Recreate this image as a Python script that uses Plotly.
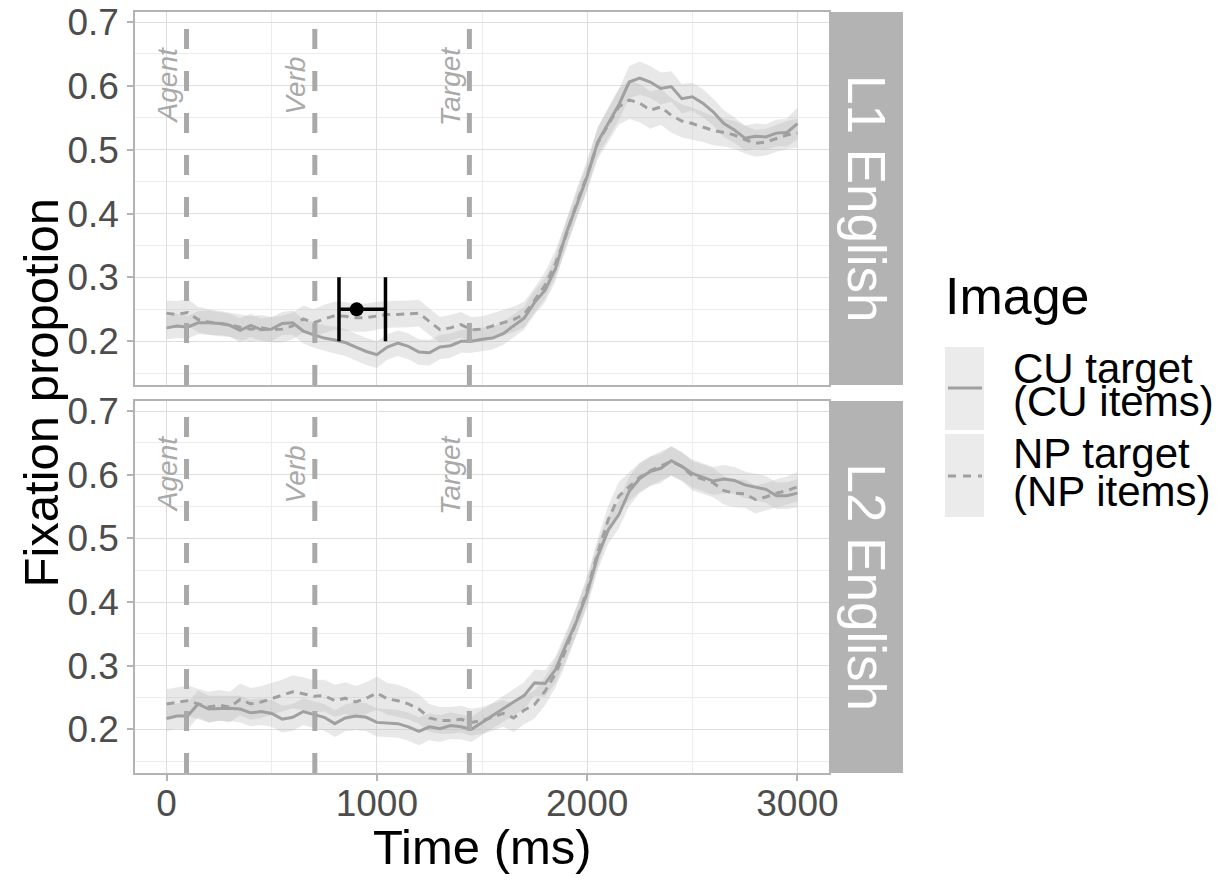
import plotly.graph_objects as go

# ---- data ------------------------------------------------------------------
time_ms = [0, 50, 100, 150, 200, 250, 300, 350, 400, 450, 500, 550, 600, 650,
           700, 750, 800, 850, 900, 950, 1000, 1050, 1100, 1150, 1200, 1250,
           1300, 1350, 1400, 1450, 1500, 1550, 1600, 1650, 1700, 1750, 1800,
           1850, 1900, 1950, 2000, 2050, 2100, 2150, 2200, 2250, 2300, 2350,
           2400, 2450, 2500, 2550, 2600, 2650, 2700, 2750, 2800, 2850, 2900,
           2950, 3000]

# L1 English
l1_cu = [0.221, 0.224, 0.222, 0.229, 0.229, 0.228, 0.225, 0.217, 0.225, 0.218,
         0.219, 0.228, 0.229, 0.216, 0.210, 0.205, 0.202, 0.198, 0.191, 0.184,
         0.179, 0.191, 0.197, 0.192, 0.183, 0.182, 0.191, 0.193, 0.200, 0.200,
         0.203, 0.205, 0.212, 0.224, 0.236, 0.261, 0.280, 0.314, 0.369, 0.413,
         0.458, 0.512, 0.541, 0.570, 0.606, 0.612, 0.606, 0.596, 0.599, 0.580,
         0.583, 0.573, 0.559, 0.541, 0.531, 0.518, 0.521, 0.520, 0.526, 0.527,
         0.541]
l1_cu_se = [0.018, 0.019, 0.018, 0.018, 0.019, 0.018, 0.018, 0.019, 0.018, 0.018,
            0.019, 0.018, 0.019, 0.019, 0.020, 0.020, 0.021, 0.021, 0.021, 0.021,
            0.021, 0.020, 0.020, 0.020, 0.020, 0.020, 0.019, 0.019, 0.018, 0.018,
            0.018, 0.018, 0.018, 0.018, 0.018, 0.019, 0.019, 0.020, 0.020, 0.020,
            0.021, 0.022, 0.023, 0.024, 0.025, 0.026, 0.025, 0.025, 0.024, 0.023,
            0.022, 0.022, 0.021, 0.021, 0.020, 0.020, 0.020, 0.020, 0.021, 0.022,
            0.025]
l1_np = [0.244, 0.242, 0.245, 0.234, 0.230, 0.228, 0.226, 0.222, 0.219, 0.221,
         0.218, 0.219, 0.224, 0.235, 0.229, 0.235, 0.240, 0.239, 0.237, 0.237,
         0.240, 0.242, 0.242, 0.243, 0.244, 0.231, 0.218, 0.221, 0.226, 0.218,
         0.219, 0.224, 0.229, 0.234, 0.242, 0.264, 0.288, 0.322, 0.366, 0.416,
         0.460, 0.510, 0.539, 0.567, 0.578, 0.573, 0.562, 0.567, 0.554, 0.545,
         0.541, 0.536, 0.530, 0.527, 0.523, 0.516, 0.510, 0.512, 0.518, 0.523,
         0.526]
l1_np_se = [0.020, 0.021, 0.021, 0.020, 0.020, 0.020, 0.019, 0.020, 0.020, 0.020,
            0.020, 0.021, 0.021, 0.021, 0.021, 0.022, 0.022, 0.022, 0.022, 0.022,
            0.022, 0.021, 0.021, 0.021, 0.021, 0.021, 0.020, 0.020, 0.020, 0.020,
            0.020, 0.020, 0.020, 0.020, 0.020, 0.020, 0.021, 0.021, 0.022, 0.023,
            0.024, 0.025, 0.027, 0.028, 0.030, 0.030, 0.029, 0.028, 0.027, 0.026,
            0.025, 0.024, 0.023, 0.022, 0.022, 0.022, 0.021, 0.021, 0.021, 0.022,
            0.023]

# L2 English
l2_cu = [0.217, 0.221, 0.221, 0.240, 0.232, 0.233, 0.233, 0.232, 0.226, 0.228,
         0.225, 0.216, 0.219, 0.228, 0.223, 0.219, 0.209, 0.218, 0.221, 0.219,
         0.211, 0.210, 0.209, 0.204, 0.197, 0.204, 0.201, 0.206, 0.204, 0.200,
         0.211, 0.222, 0.232, 0.243, 0.253, 0.273, 0.272, 0.294, 0.333, 0.370,
         0.414, 0.472, 0.513, 0.537, 0.574, 0.594, 0.605, 0.610, 0.622, 0.613,
         0.602, 0.596, 0.590, 0.593, 0.591, 0.584, 0.580, 0.577, 0.567, 0.567,
         0.571]
l2_cu_se = [0.020, 0.020, 0.021, 0.021, 0.021, 0.020, 0.020, 0.021, 0.021, 0.021,
            0.021, 0.021, 0.021, 0.021, 0.021, 0.021, 0.021, 0.021, 0.022, 0.022,
            0.022, 0.022, 0.022, 0.022, 0.022, 0.021, 0.021, 0.021, 0.020, 0.020,
            0.020, 0.020, 0.021, 0.021, 0.021, 0.021, 0.021, 0.021, 0.022, 0.022,
            0.022, 0.022, 0.022, 0.022, 0.023, 0.023, 0.023, 0.023, 0.023, 0.022,
            0.022, 0.022, 0.022, 0.022, 0.021, 0.021, 0.021, 0.021, 0.021, 0.021,
            0.022]
l2_np = [0.240, 0.243, 0.245, 0.240, 0.235, 0.238, 0.235, 0.247, 0.240, 0.243,
         0.248, 0.253, 0.259, 0.256, 0.252, 0.253, 0.245, 0.249, 0.243, 0.249,
         0.257, 0.248, 0.245, 0.240, 0.232, 0.218, 0.214, 0.214, 0.216, 0.211,
         0.214, 0.219, 0.225, 0.218, 0.230, 0.239, 0.260, 0.288, 0.326, 0.371,
         0.419, 0.477, 0.529, 0.566, 0.581, 0.596, 0.606, 0.614, 0.621, 0.613,
         0.598, 0.593, 0.587, 0.575, 0.571, 0.570, 0.561, 0.565, 0.571, 0.575,
         0.581]
l2_np_se = [0.023, 0.023, 0.024, 0.024, 0.024, 0.024, 0.024, 0.025, 0.025, 0.025,
            0.025, 0.025, 0.026, 0.026, 0.025, 0.025, 0.025, 0.025, 0.025, 0.025,
            0.026, 0.025, 0.025, 0.024, 0.023, 0.022, 0.021, 0.021, 0.021, 0.021,
            0.021, 0.021, 0.021, 0.022, 0.022, 0.022, 0.022, 0.022, 0.022, 0.022,
            0.022, 0.022, 0.022, 0.022, 0.022, 0.023, 0.023, 0.023, 0.023, 0.023,
            0.023, 0.023, 0.023, 0.022, 0.022, 0.022, 0.022, 0.022, 0.022, 0.022,
            0.023]

# word onsets and their labels
event_times = [95, 705, 1440]
event_labels = ["Agent", "Verb", "Target"]

# mean divergence point with its interval (L1 panel)
div_time = [904]
div_lo = [820]
div_hi = [1041]
div_y = [0.25]

panel_names = ["L1 English", "L2 English"]
legend_title = "Image"
legend_names = [["CU target", "(CU items)"], ["NP target", "(NP items)"]]

# ---- styling ---------------------------------------------------------------
FONT = "Liberation Sans, Arial, Helvetica, sans-serif"
LINE_COL = "#a0a0a0"
RIBBON = "rgba(185,185,185,0.33)"
EVENT_COL = "#a9a9a9"
STRIP_COL = "#b3b3b3"
GRID = "#dedede"
GRID_MINOR = "#ececec"

W, H = 1232, 882
ML, MR, MT, MB = 135, 329, 12, 109
PW, PH = W - ML - MR, H - MT - MB
PANEL_RIGHT = 829


def px_x(p):
    return (p - ML) / PW


def px_y(p):
    return (H - MB - p) / PH


x_dom = [0, px_x(PANEL_RIGHT)]
top_dom = [px_y(385), 1]
bot_dom = [0, px_y(401)]

fig = go.Figure()

panels = [
    ("x2", "y2", l1_cu, l1_cu_se, l1_np, l1_np_se),
    ("x", "y", l2_cu, l2_cu_se, l2_np, l2_np_se),
]

for xa, ya, cu, cu_se, np_, np_se in panels:
    for vals, se in ((cu, cu_se), (np_, np_se)):
        upper = [v + s for v, s in zip(vals, se)]
        lower = [v - s for v, s in zip(vals, se)]
        fig.add_trace(go.Scatter(
            x=time_ms + time_ms[::-1], y=upper + lower[::-1],
            fill="toself", fillcolor=RIBBON, line=dict(width=0),
            mode="lines", hoverinfo="skip", showlegend=False,
            xaxis=xa, yaxis=ya))
    fig.add_trace(go.Scatter(
        x=time_ms, y=cu, mode="lines",
        line=dict(color=LINE_COL, width=3), showlegend=False,
        xaxis=xa, yaxis=ya))
    fig.add_trace(go.Scatter(
        x=time_ms, y=np_, mode="lines",
        line=dict(color=LINE_COL, width=3, dash="8px,6px"), showlegend=False,
        xaxis=xa, yaxis=ya))

# divergence point with horizontal interval
fig.add_trace(go.Scatter(
    x=div_time, y=div_y, mode="markers",
    marker=dict(color="black", size=14),
    error_x=dict(type="data", symmetric=False,
                 array=[h - t for h, t in zip(div_hi, div_time)],
                 arrayminus=[t - l for t, l in zip(div_time, div_lo)],
                 color="black", thickness=3.5, width=32),
    showlegend=False, xaxis="x2", yaxis="y2"))

shapes = []
annotations = []


def note(**kw):
    kw.setdefault("showarrow", False)
    kw.setdefault("xanchor", "center")
    kw.setdefault("yanchor", "middle")
    annotations.append(kw)


for xa, ya, dom in (("x2", "y2", top_dom), ("x", "y", bot_dom)):
    for t, lab in zip(event_times, event_labels):
        shapes.append(dict(type="line", xref=xa, yref=f"{ya} domain",
                           x0=t, x1=t, y0=0, y1=1,
                           line=dict(color=EVENT_COL, width=5, dash="20px,22px")))
        note(xref=xa, yref=ya, x=t, y=0.6, text=f"<i>{lab}</i>",
             textangle=-90, xshift=-19,
             font=dict(family=FONT, size=28, color=EVENT_COL))

# facet strips
for dom, name in ((top_dom, panel_names[0]), (bot_dom, panel_names[1])):
    shapes.append(dict(type="rect", xref="paper", yref="paper",
                       x0=px_x(830.5), x1=px_x(903), y0=dom[0], y1=dom[1],
                       fillcolor=STRIP_COL, line=dict(width=0), layer="below"))
    note(xref="paper", yref="paper", x=px_x(866.5), y=(dom[0] + dom[1]) / 2,
         text=name, textangle=90,
         font=dict(family=FONT, size=53, color="white"))

# axis titles
note(xref="paper", yref="paper", x=px_x(40), y=0.5,
     text="Fixation propotion", textangle=-90,
     font=dict(family=FONT, size=49, color="black"))
note(xref="paper", yref="paper", x=px_x(482), y=px_y(847),
     text="Time (ms)",
     font=dict(family=FONT, size=49, color="black"))

# legend
note(xref="paper", yref="paper", x=px_x(943), y=px_y(296), xanchor="left",
     text=legend_title, font=dict(family=FONT, size=52, color="black"))
key_boxes = [(347, 430, 388, "solid"), (434, 517, 476, "8px,7px")]
label_rows = [(368.5, 401.5), (453.5, 491.5)]
for (b0, b1, ly, dash), rows, names in zip(key_boxes, label_rows, legend_names):
    shapes.append(dict(type="rect", xref="paper", yref="paper",
                       x0=px_x(945), x1=px_x(984), y0=px_y(b1), y1=px_y(b0),
                       fillcolor="#ebebeb", line=dict(width=0)))
    shapes.append(dict(type="line", xref="paper", yref="paper",
                       x0=px_x(948), x1=px_x(982), y0=px_y(ly), y1=px_y(ly),
                       line=dict(color=LINE_COL, width=3, dash=dash)))
    for ry, txt in zip(rows, names):
        note(xref="paper", yref="paper", x=px_x(1011), y=px_y(ry),
             xanchor="left", text=txt,
             font=dict(family=FONT, size=42, color="black"))

axis_common = dict(
    showgrid=True, gridcolor=GRID, gridwidth=1.3, zeroline=False,
    showline=True, mirror=True, linecolor="#b3b3b3", linewidth=1.5,
    ticks="outside", ticklen=6, tickwidth=1.5, tickcolor="#b3b3b3",
    tickfont=dict(family=FONT, size=37, color="#4d4d4d"),
    automargin=False,
)
x_common = dict(axis_common, range=[-150, 3150], tick0=0, dtick=1000,
                ticklabelstandoff=-9,
                minor=dict(dtick=500, tick0=0, showgrid=True,
                           gridcolor=GRID_MINOR, gridwidth=0.8),
                domain=x_dom)
y_common = dict(axis_common, range=[0.1315, 0.7157], tick0=0, dtick=0.1,
                tickformat=".1f", ticklabelstandoff=1,
                minor=dict(dtick=0.05, tick0=0, showgrid=True,
                           gridcolor=GRID_MINOR, gridwidth=0.8))

fig.update_layout(
    width=W, height=H,
    margin=dict(l=ML, r=MR, t=MT, b=MB, autoexpand=False),
    paper_bgcolor="white", plot_bgcolor="white",
    showlegend=False,
    xaxis=dict(x_common, anchor="y"),
    xaxis2=dict(x_common, anchor="y2", matches="x", showticklabels=False,
                ticks=""),
    yaxis=dict(y_common, domain=bot_dom, anchor="x"),
    yaxis2=dict(y_common, domain=top_dom, anchor="x2"),
    shapes=shapes,
    annotations=annotations,
    font=dict(family=FONT),
)

fig.write_html("out.html")
